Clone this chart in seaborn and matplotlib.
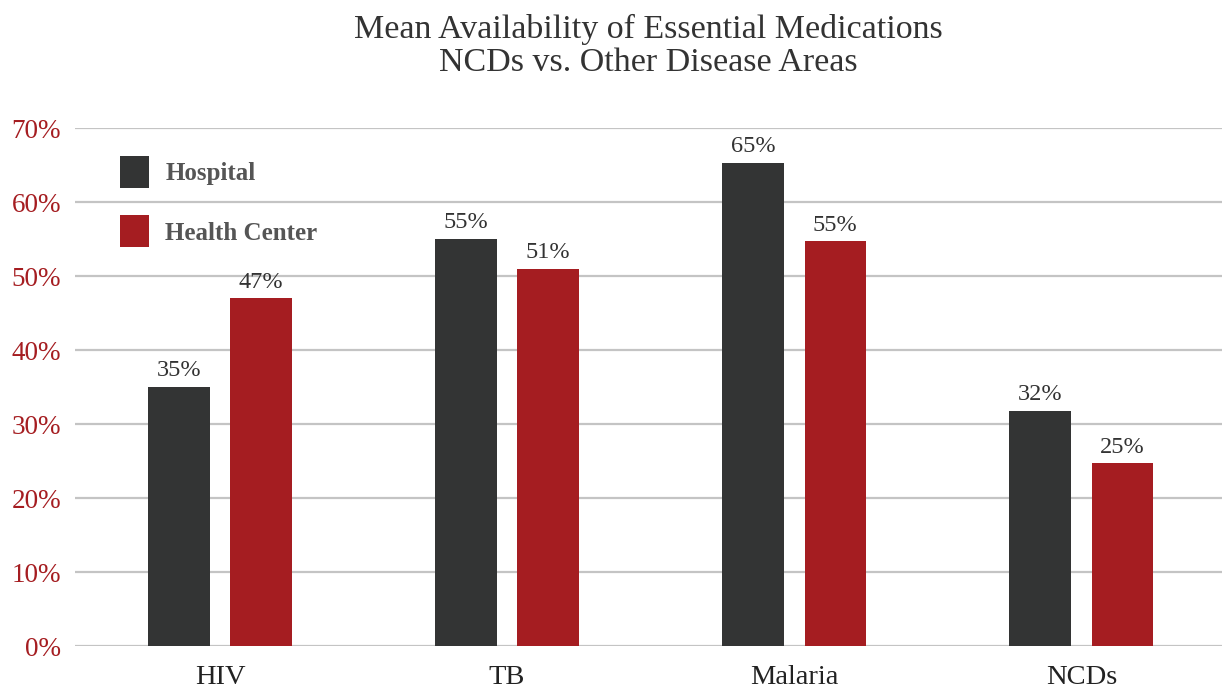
import matplotlib
matplotlib.use("Agg")
import matplotlib.pyplot as plt
import matplotlib.ticker as tick
import seaborn as sns
import pandas as pd

categories = ["HIV", "TB", "Malaria", "NCDs"]
hospital = [0.35, 0.55, 0.653, 0.318]
health_center = [0.47, 0.51, 0.547, 0.247]
series_names = ["Hospital", "Health Center"]
colors = ["#333434", "#a51d21"]

df = pd.DataFrame({
    "Area": categories * 2,
    "Facility": [series_names[0]] * 4 + [series_names[1]] * 4,
    "Availability": hospital + health_center,
})

sns.set_style("white")
plt.rcParams["font.family"] = ["Liberation Serif", "DejaVu Serif"]

fig = plt.figure(figsize=(12.22, 6.89), dpi=100)
ax = fig.add_axes([0.0614, 0.0624, 0.9386, 0.7518])

ax.yaxis.grid(True, color="#c4c4c4", linewidth=1.6)
ax.set_axisbelow(True)

sns.barplot(data=df, x="Area", y="Availability", hue="Facility",
            palette=colors, width=0.573, gap=0.25, saturation=1,
            linewidth=0, ax=ax, legend=True)

for cont in ax.containers:
    labels = ["{:.0f}%".format(v.get_height() * 100) for v in cont]
    ax.bar_label(cont, labels=labels, padding=4, fontsize=17.5, color="#333333")

ax.set_ylim(0, 0.7)
ax.set_xlim(-0.505, 3.49)
ax.yaxis.set_major_locator(tick.MultipleLocator(0.1))
ax.yaxis.set_major_formatter(tick.FuncFormatter(lambda v, p: "{:.0f}%".format(v * 100)))
ax.tick_params(axis="y", labelsize=19.5, labelcolor="#a51d21", length=0, pad=10)
ax.tick_params(axis="x", labelsize=20.5, labelcolor="#222222", length=0, pad=14)
ax.set_xlabel("")
ax.set_ylabel("")
for s in ax.spines.values():
    s.set_visible(False)

ax.set_title("Mean Availability of Essential Medications\nNCDs vs. Other Disease Areas",
             fontsize=24.5, color="#333333", pad=41, linespacing=1.1)

leg = ax.legend(loc="upper left", bbox_to_anchor=(0.02, 0.99), frameon=False,
                handlelength=1.15, handleheight=1.6, labelspacing=1.1,
                handletextpad=0.65, prop={"size": 18, "weight": "bold"})
for t in leg.get_texts():
    t.set_color("#555555")

fig.savefig("out.png", dpi=100)
